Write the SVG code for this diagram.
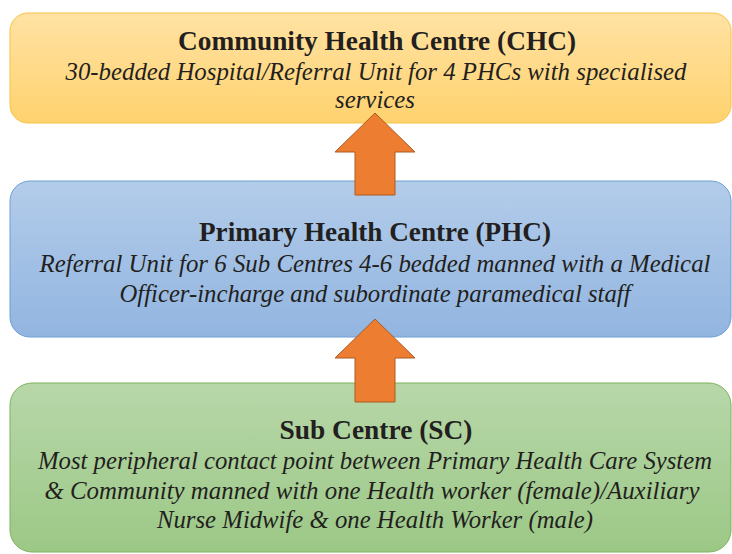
<svg xmlns="http://www.w3.org/2000/svg" width="732" height="554" viewBox="0 0 732 554">
<defs>
<linearGradient id="gOr" x1="0" y1="0" x2="0" y2="1"><stop offset="0" stop-color="#FFE2A3"/><stop offset="1" stop-color="#FFD26E"/></linearGradient>
<linearGradient id="gBl" x1="0" y1="0" x2="0" y2="1"><stop offset="0" stop-color="#B3CCEA"/><stop offset="1" stop-color="#92B5E0"/></linearGradient>
<linearGradient id="gGr" x1="0" y1="0" x2="0" y2="1"><stop offset="0" stop-color="#B7D7A9"/><stop offset="1" stop-color="#9CC886"/></linearGradient>
</defs>
<style>
text{font-family:'Liberation Serif',Tinos,'Times New Roman',Times,serif;fill:#231F20;text-anchor:middle}
.t{font-weight:bold;font-size:28px}
.s{font-style:italic;font-size:25px}
.arrow{fill:#ED7D31;stroke:#AE5A21;stroke-width:1}
</style>
<g id="chc">
<rect x="10" y="13" width="721" height="110" rx="18" fill="url(#gOr)" stroke="#F6C342" stroke-width="1"/>
<text class="t" x="377" y="50" textLength="398" lengthAdjust="spacingAndGlyphs">Community Health Centre (CHC)</text>
<text class="s" x="376" y="80" textLength="621" lengthAdjust="spacingAndGlyphs">30-bedded Hospital/Referral Unit for 4 PHCs with specialised</text>
<text class="s" x="375" y="108" textLength="80" lengthAdjust="spacingAndGlyphs">services</text>
</g>
<g id="phc">
<rect x="10" y="181" width="721" height="156" rx="20" fill="url(#gBl)" stroke="#6C9FD4" stroke-width="1"/>
<text class="t" x="375" y="241" textLength="352" lengthAdjust="spacingAndGlyphs">Primary Health Centre (PHC)</text>
<text class="s" x="375" y="272" textLength="671" lengthAdjust="spacingAndGlyphs">Referral Unit for 6 Sub Centres 4-6 bedded manned with a Medical</text>
<text class="s" x="375" y="302" textLength="511" lengthAdjust="spacingAndGlyphs">Officer-incharge and subordinate paramedical staff</text>
</g>
<g id="sc">
<rect x="10" y="383" width="721" height="169" rx="22" fill="url(#gGr)" stroke="#7DB35A" stroke-width="1"/>
<text class="t" x="376" y="439" textLength="193" lengthAdjust="spacingAndGlyphs">Sub Centre (SC)</text>
<text class="s" x="375" y="469" textLength="674" lengthAdjust="spacingAndGlyphs">Most peripheral contact point between Primary Health Care System</text>
<text class="s" x="372" y="499" textLength="655" lengthAdjust="spacingAndGlyphs">&amp; Community manned with one Health worker (female)/Auxiliary</text>
<text class="s" x="375" y="528" textLength="436" lengthAdjust="spacingAndGlyphs">Nurse Midwife &amp; one Health Worker (male)</text>
</g>
<g id="connectors">
<polygon class="arrow" points="375,113 415,152 395,152 395,195 355,195 355,152 335,152"/>
<polygon class="arrow" points="375,319 415,358 395,358 395,402 355,402 355,358 335,358"/>
</g>
</svg>
